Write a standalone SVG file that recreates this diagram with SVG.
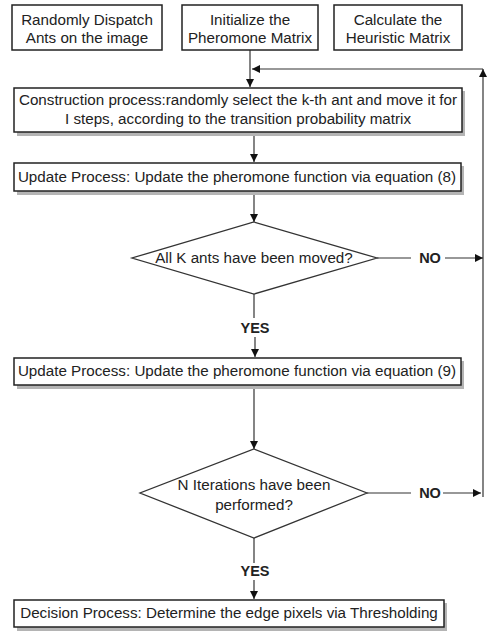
<svg xmlns="http://www.w3.org/2000/svg" width="487" height="631" viewBox="0 0 487 631">
<style>
.box{fill:#fff;stroke:#222;stroke-width:1.5}
.shadow{fill:#b4b4b4}
.dia{fill:#fff;stroke:#333;stroke-width:1.3}
.t{font-family:"Liberation Sans",Arial,sans-serif;font-size:15.2px;fill:#222;text-anchor:middle}
.b{font-weight:bold;font-size:14.5px}
.ln{stroke:#333;stroke-width:1.2;fill:none}
.arr{marker-end:url(#ah)}
</style>
<defs>
<marker id="ah" viewBox="0 0 10 10" refX="10" refY="5" markerWidth="8" markerHeight="8" markerUnits="userSpaceOnUse" orient="auto">
<path d="M0,0 L10,5 L0,10 z" fill="#111"/>
</marker>
</defs>
<rect width="487" height="631" fill="#fff"/>
<g id="connectors">
<path class="ln arr" d="M250,50 V87"/>
<path class="ln arr" d="M483,69 H252"/>
<path class="ln arr" d="M483,497 V69"/>
<path class="ln arr" d="M254,132 V162"/>
<path class="ln arr" d="M254,191 V222"/>
<path class="ln" d="M377,258 H411"/>
<text class="t b" x="430" y="263">NO</text>
<path class="ln arr" d="M445,258 H483"/>
<path class="ln" d="M254,294 V318"/>
<text class="t b" x="255" y="333">YES</text>
<path class="ln arr" d="M255,337 V357"/>
<path class="ln arr" d="M254,385 V449"/>
<path class="ln" d="M367,493 H411"/>
<text class="t b" x="430" y="498">NO</text>
<path class="ln arr" d="M443,493 H481"/>
<path class="ln" d="M254,538 V563"/>
<text class="t b" x="255" y="576">YES</text>
<path class="ln arr" d="M254,580 V599"/>
</g>
<g id="n1">
<rect class="box" x="12" y="5" width="150" height="45"/>
<text class="t" x="87" y="25">Randomly Dispatch</text>
<text class="t" x="87" y="43">Ants on the image</text>
</g>
<g id="n2">
<rect class="box" x="182" y="5" width="136" height="45"/>
<text class="t" x="250" y="25">Initialize the</text>
<text class="t" x="250" y="43">Pheromone Matrix</text>
</g>
<g id="n3">
<rect class="box" x="334" y="5" width="128" height="45"/>
<text class="t" x="398" y="25">Calculate the</text>
<text class="t" x="398" y="43">Heuristic Matrix</text>
</g>
<g id="n4">
<rect class="shadow" x="17" y="91" width="448" height="45"/>
<rect class="box" x="14" y="88" width="448" height="44"/>
<text class="t" x="238" y="105">Construction process:randomly select the k-th ant and move it for</text>
<text class="t" x="238" y="124">I steps, according to the transition probability matrix</text>
</g>
<g id="n5">
<rect class="shadow" x="17" y="166" width="447" height="29"/>
<rect class="box" x="14" y="163" width="447" height="28"/>
<text class="t" x="237" y="182">Update Process: Update the pheromone function via equation (8)</text>
</g>
<g id="n6">
<polygon class="dia" points="254,222 377,258 254,294 132,258"/>
<text class="t" x="254" y="263">All K ants have been moved?</text>
</g>
<g id="n7">
<rect class="shadow" x="17" y="361" width="447" height="28"/>
<rect class="box" x="14" y="358" width="447" height="27"/>
<text class="t" x="237" y="376">Update Process: Update the pheromone function via equation (9)</text>
</g>
<g id="n8">
<polygon class="dia" points="254,449 367,493 254,538 140,493"/>
<text class="t" x="254" y="490">N Iterations have been</text>
<text class="t" x="254" y="510">performed?</text>
</g>
<g id="n9">
<rect class="shadow" x="17" y="603" width="430" height="28"/>
<rect class="box" x="14" y="600" width="430" height="27"/>
<text class="t" x="229" y="618">Decision Process: Determine the edge pixels via Thresholding</text>
</g>
</svg>
